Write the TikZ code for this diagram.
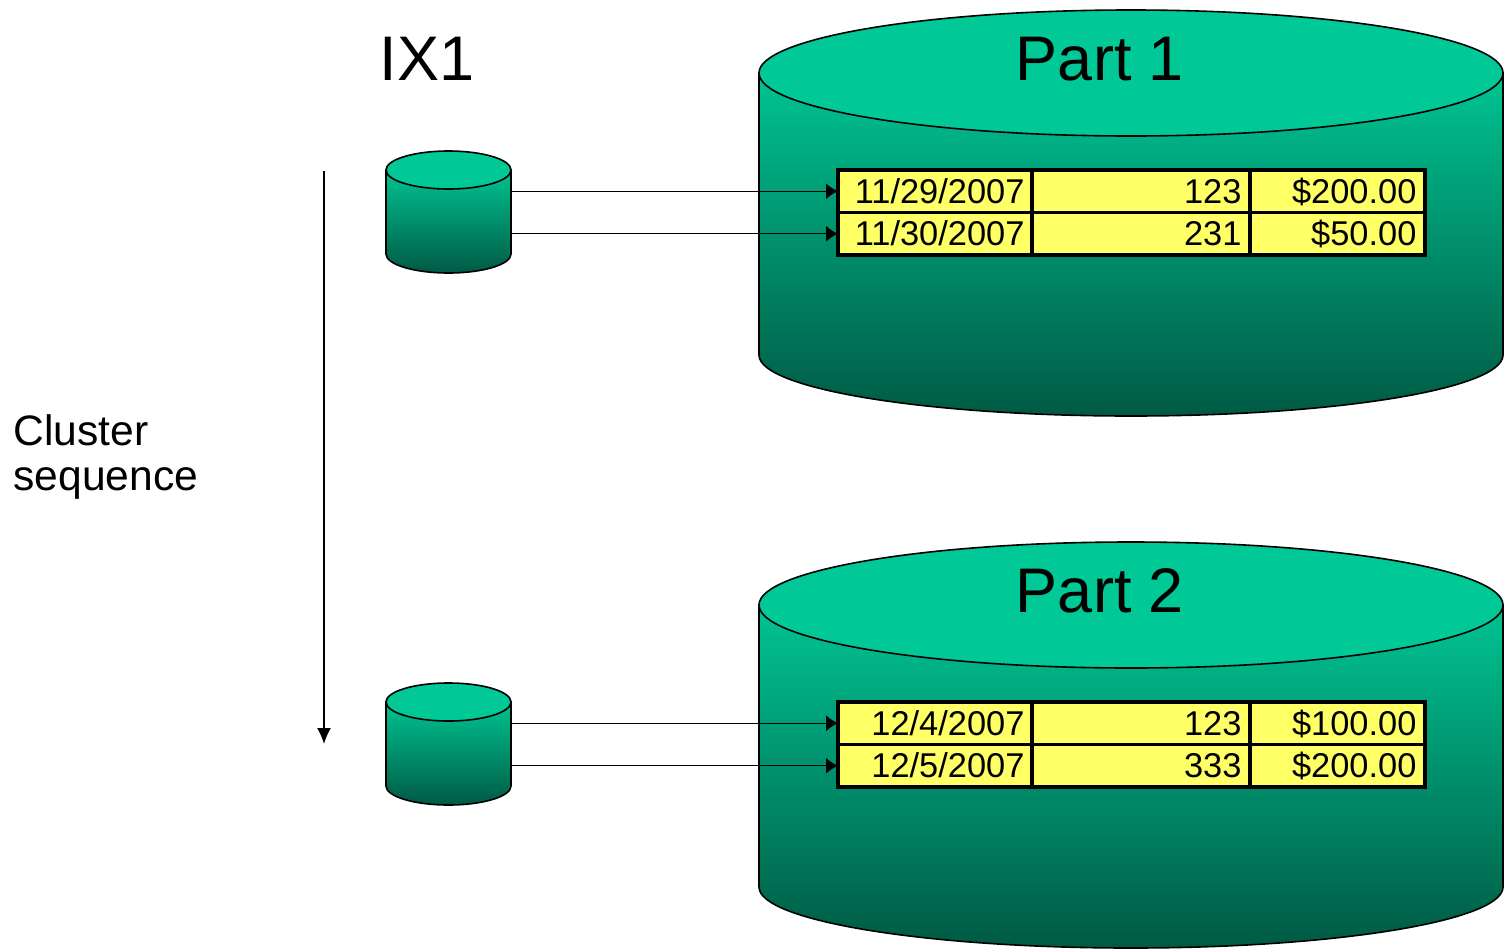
\documentclass[tikz,border=0pt]{standalone}
\usepackage{fontspec}
\setmainfont{Liberation Sans}
\usetikzlibrary{arrows.meta}
\definecolor{captop}{RGB}{0,200,150}
\definecolor{bodytop}{RGB}{0,196,146}
\definecolor{bodybot}{RGB}{0,90,68}
\definecolor{cellyellow}{RGB}{255,255,102}
\tikzset{
  outline/.style={draw=black, line width=0.8pt},
  body/.style={outline, top color=bodytop, bottom color=bodybot},
  lid/.style={outline, fill=captop},
  cell/.style={draw=black, line width=1.6pt, fill=cellyellow, anchor=north west,
    outer sep=0pt, minimum height=21.25pt, inner xsep=4.3pt, inner ysep=0pt,
    align=right, font=\fontsize{17.2}{17.2}\selectfont,
    text height=12.2pt, text depth=0pt},
  cola/.style={cell, text width=88.9pt},
  colb/.style={cell, text width=100.4pt},
  colc/.style={cell, text width=78.9pt},
  link/.style={draw=black, line width=0.7pt, -{Latex[length=6pt,width=8pt]}},
  bigtitle/.style={font=\fontsize{31.5}{31.5}\selectfont, anchor=base},
}
\begin{document}
\begin{tikzpicture}[x=0.5pt,y=-0.5pt]
\useasboundingbox (0,0) rectangle (1504,948);

% partition drums: shaded body, then flat lid
\foreach \dy in {0,532}{
  \begin{scope}[yshift=-\dy*0.5pt]
    \path[body] (759,73) -- (759,355)
      arc[start angle=180, end angle=0, x radius=372, y radius=61]
      -- (1503,73) -- cycle;
    \path[lid] (1131,73) ellipse[x radius=372, y radius=63];
  \end{scope}
}
\node[bigtitle] (p1) at (1100,80) {Part 1};
\node[bigtitle] (p2) at (1100,612) {Part 2};

% small index drums
\foreach \dy in {0,532}{
  \begin{scope}[yshift=-\dy*0.5pt]
    \path[body] (386,170) -- (386,254)
      arc[start angle=180, end angle=0, x radius=62.5, y radius=19]
      -- (511,170) -- cycle;
    \path[lid] (448.5,170) ellipse[x radius=62.5, y radius=19];
  \end{scope}
}
\node[bigtitle] (ix) at (427,80) {IX1};

% rows of partition 1
\node[cola] (a1) at (838,170) {11/29/2007};
\node[colb] (b1) at (1032,170) {123};
\node[colc] (c1) at (1250,170) {\$200.00};
\node[cola] (a2) at (838,212.5) {11/30/2007};
\node[colb] (b2) at (1032,212.5) {231};
\node[colc] (c2) at (1250,212.5) {\$50.00};

% rows of partition 2
\node[cola] (a3) at (838,702) {12/4/2007};
\node[colb] (b3) at (1032,702) {123};
\node[colc] (c3) at (1250,702) {\$100.00};
\node[cola] (a4) at (838,744.5) {12/5/2007};
\node[colb] (b4) at (1032,744.5) {333};
\node[colc] (c4) at (1250,744.5) {\$200.00};

% index entries pointing at rows
\coordinate (k1) at (511,191);
\coordinate (k2) at (511,233);
\coordinate (k3) at (511,723);
\coordinate (k4) at (511,765);
\draw[link] (k1 |- a1.west) -- (a1.west);
\draw[link] (k2 |- a2.west) -- (a2.west);
\draw[link] (k3 |- a3.west) -- (a3.west);
\draw[link] (k4 |- a4.west) -- (a4.west);

% cluster order
\coordinate (s0) at (324,171);
\coordinate (s1) at (324,744);
\draw[link, -{Latex[length=8pt,width=7pt]}] (s0) -- (s1);
\node[anchor=base west, align=left, inner sep=0pt,
  font=\fontsize{21.3}{22.5}\selectfont] (cs) at (13,490) {Cluster\\sequence};
\end{tikzpicture}
\end{document}
